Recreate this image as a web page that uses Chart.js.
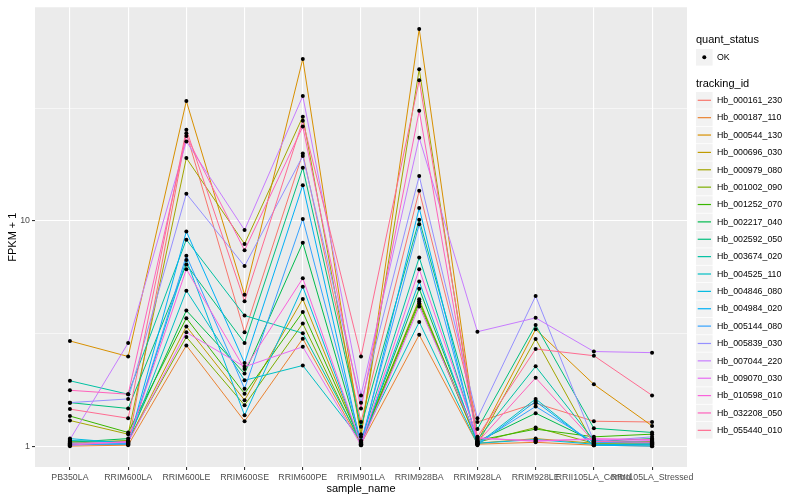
<!DOCTYPE html>
<html>
<head>
<meta charset="utf-8">
<script src="https://cdn.jsdelivr.net/npm/chart.js@4.4.1/dist/chart.umd.min.js"></script>
<style>
  body { margin: 0; background: #ffffff; }
  canvas { display: block; }
</style>
</head>
<body>
<canvas id="chart" width="800" height="500"></canvas>
<script>
// categories on the x axis
const sampleNames = ['PB350LA', 'RRIM600LA', 'RRIM600LE', 'RRIM600SE', 'RRIM600PE', 'RRIM901LA',
  'RRIM928BA', 'RRIM928LA', 'RRIM928LE', 'RRII105LA_Control', 'RRII105LA_Stressed'];

const trackingIds = ['Hb_000161_230', 'Hb_000187_110', 'Hb_000544_130', 'Hb_000696_030', 'Hb_000979_080',
  'Hb_001002_090', 'Hb_001252_070', 'Hb_002217_040', 'Hb_002592_050', 'Hb_003674_020',
  'Hb_004525_110', 'Hb_004846_080', 'Hb_004984_020', 'Hb_005144_080', 'Hb_005839_030',
  'Hb_007044_220', 'Hb_009070_030', 'Hb_010598_010', 'Hb_032208_050', 'Hb_055440_010'];

// FPKM + 1 per sample
const hb_000161_230 = [1.02, 1.02, 24.5, 3.2, 19.9, 1.28, 13.6, 1.28, 1.55, 1.29, 1.28];
const hb_000187_110 = [1.00, 1.01, 2.8, 1.29, 3.0, 1.02, 3.12, 1.02, 1.04, 1.01, 1.00];
const hb_000544_130 = [2.93, 2.5, 34, 4.7, 52.3, 1.1, 71, 1.05, 3.3, 1.88, 1.23];
const hb_000696_030 = [1.05, 1.05, 3.4, 1.6, 4.5, 1.03, 4.49, 1.03, 1.08, 1.03, 1.05];
const hb_000979_080 = [1.30, 1.13, 19, 7.9, 29, 1.13, 47.1, 1.02, 2.99, 1.02, 1.02];
const hb_001002_090 = [1.03, 1.06, 3.05, 1.52, 3.5, 1.02, 4.3, 1.04, 1.21, 1.03, 1.03];
const hb_001252_070 = [1.36, 1.15, 3.7, 1.71, 3.94, 1.04, 4.4, 1.06, 1.19, 1.1, 1.13];
const hb_002217_040 = [1.04, 1.08, 4.0, 2.1, 8.0, 1.03, 5.0, 1.05, 1.4, 1.05, 1.08];
const hb_002592_050 = [1.56, 1.47, 6.4, 2.87, 17.2, 1.22, 10.1, 1.19, 3.45, 1.2, 1.15];
const hb_003674_020 = [1.95, 1.70, 8.25, 3.8, 3.17, 1.05, 6.88, 1.07, 2.26, 1.06, 1.04];
const hb_004525_110 = [1.06, 1.04, 4.9, 1.96, 2.28, 1.06, 3.56, 1.02, 1.62, 1.01, 1.02];
const hb_004846_080 = [1.08, 1.03, 6.7, 1.37, 5.1, 1.02, 5.38, 1.03, 1.07, 1.02, 1.01];
const hb_004984_020 = [1.02, 1.02, 8.97, 2.34, 14.4, 1.01, 11.4, 1.01, 1.58, 1.01, 1.00];
const hb_005144_080 = [1.01, 1.03, 7.0, 1.8, 10.2, 1.04, 9.66, 1.03, 1.5, 1.04, 1.03];
const hb_005839_030 = [1.56, 1.62, 13.2, 6.3, 19.4, 1.56, 15.8, 1.33, 4.64, 1.05, 1.1];
const hb_007044_220 = [1.07, 2.87, 22.5, 9.1, 35.8, 1.68, 23.4, 3.22, 3.71, 2.63, 2.60];
const hb_009070_030 = [1.03, 1.04, 3.2, 2.25, 2.76, 1.01, 4.17, 1.08, 1.06, 1.07, 1.06];
const hb_010598_010 = [1.01, 1.05, 6.1, 2.2, 5.56, 1.02, 6.1, 1.09, 1.05, 1.08, 1.07];
const hb_032208_050 = [1.77, 1.70, 23.8, 7.4, 26.2, 1.47, 30.8, 1.04, 2.01, 1.05, 1.04];
const hb_055440_010 = [1.46, 1.33, 25.4, 4.4, 27.8, 2.5, 42.1, 1.1, 2.7, 2.52, 1.68];

const seriesValues = [hb_000161_230, hb_000187_110, hb_000544_130, hb_000696_030, hb_000979_080,
  hb_001002_090, hb_001252_070, hb_002217_040, hb_002592_050, hb_003674_020,
  hb_004525_110, hb_004846_080, hb_004984_020, hb_005144_080, hb_005839_030,
  hb_007044_220, hb_009070_030, hb_010598_010, hb_032208_050, hb_055440_010];

// y ticks: labelled majors and unlabelled minor gridlines
const yMajorTicks = [1, 10];
const yMinorTicks = [3.1623, 31.623];

// ggplot hue palette
const lineColours = ['#F8766D', '#EA8331', '#D89000', '#C09B00', '#A3A500', '#7CAE00', '#39B600',
  '#00BB4E', '#00BF7D', '#00C1A3', '#00BFC4', '#00BAE0', '#00B0F6', '#35A2FF', '#9590FF',
  '#C77CFF', '#E76BF3', '#FA62DB', '#FF62BC', '#FF6C91'];

const FONT = '"Liberation Sans", Arial, Helvetica, sans-serif';
Chart.defaults.font.family = FONT;

// grey panel behind the grid
const panelBg = {
  id: 'panelBg',
  beforeDraw(chart) {
    const a = chart.chartArea, c = chart.ctx;
    c.save();
    c.fillStyle = '#EBEBEB';
    c.fillRect(a.left, a.top, a.right - a.left, a.bottom - a.top);
    c.restore();
  }
};

// ggplot-like legend on the right
const ggLegend = {
  id: 'ggLegend',
  afterDraw(chart) {
    const c = chart.ctx;
    const x0 = 696, key = 17.37;
    c.save();
    c.textBaseline = 'middle';
    c.textAlign = 'left';
    c.fillStyle = '#000';
    c.font = '11px ' + FONT;
    c.fillText('quant_status', x0, 40);

    c.fillStyle = '#F2F2F2';
    c.fillRect(x0, 49, key - 0.8, key - 0.8);
    c.fillStyle = '#000';
    c.beginPath();
    c.arc(x0 + 8.3, 57.3, 2, 0, Math.PI * 2);
    c.fill();
    c.font = '8.8px ' + FONT;
    c.fillText('OK', x0 + 21, 57.5);

    c.font = '11px ' + FONT;
    c.fillText('tracking_id', x0, 84);

    const top = 92;
    trackingIds.forEach((id, i) => {
      const y = top + i * key;
      c.fillStyle = '#F2F2F2';
      c.fillRect(x0, y, key - 0.8, key - 0.8);
      c.strokeStyle = lineColours[i];
      c.lineWidth = 1.2;
      c.beginPath();
      c.moveTo(x0 + 1.7, y + 8.3);
      c.lineTo(x0 + 15, y + 8.3);
      c.stroke();
      c.fillStyle = '#000';
      c.font = '8.8px ' + FONT;
      c.fillText(id, x0 + 21, y + 8.6);
    });
    c.restore();
  }
};

const isMajor = v => yMajorTicks.includes(v);

const datasets = seriesValues.map((vals, i) => ({
  label: trackingIds[i],
  data: vals.map((v, j) => ({ x: j, y: v })),
  borderColor: lineColours[i],
  borderWidth: 1,
  pointRadius: 0,
  pointHoverRadius: 0,
  tension: 0,
  fill: false,
  order: 20 - i
}));

// points drawn on top of every line, as ggplot does
datasets.push({
  label: 'OK',
  data: seriesValues.flatMap(vals => vals.map((v, j) => ({ x: j, y: v }))),
  showLine: false,
  pointRadius: 2,
  pointBackgroundColor: '#000',
  pointBorderWidth: 0,
  order: 0
});

new Chart(document.getElementById('chart'), {
  type: 'line',
  data: { datasets },
  options: {
    responsive: false,
    animation: false,
    layout: { padding: { left: 0, right: 113, top: 5, bottom: 0 } },
    plugins: { legend: { display: false }, tooltip: { enabled: false } },
    scales: {
      x: {
        type: 'linear',
        min: -0.6,
        max: 10.6,
        afterBuildTicks: s => { s.ticks = sampleNames.map((_, i) => ({ value: i })); },
        afterFit: s => { s.height = 33; },
        ticks: {
          callback: v => sampleNames[v],
          autoSkip: false,
          maxRotation: 0,
          minRotation: 0,
          color: '#4D4D4D',
          font: { size: 8.8 },
          padding: 2
        },
        grid: { color: '#FFFFFF', lineWidth: 1.1, tickColor: '#333333', tickLength: 3 },
        border: { display: false },
        title: { display: true, text: 'sample_name', color: '#000', font: { size: 11 }, padding: { top: 0, bottom: 4 } }
      },
      y: {
        type: 'logarithmic',
        min: 0.808,
        max: 88.7,
        afterBuildTicks: s => { s.ticks = yMajorTicks.concat(yMinorTicks).sort((a, b) => a - b).map(v => ({ value: v })); },
        afterFit: s => { s.width = 35; },
        ticks: {
          callback: v => isMajor(v) ? String(v) : '',
          autoSkip: false,
          color: '#4D4D4D',
          font: { size: 8.8 },
          padding: 2
        },
        grid: {
          color: '#FFFFFF',
          lineWidth: ctx => (ctx.tick && isMajor(ctx.tick.value)) ? 1.1 : 0.55,
          tickColor: ctx => (ctx.tick && isMajor(ctx.tick.value)) ? '#333333' : 'rgba(0,0,0,0)',
          tickLength: 3
        },
        border: { display: false },
        title: { display: true, text: 'FPKM + 1', color: '#000', font: { size: 11 }, padding: { top: 6, bottom: 0 } }
      }
    }
  },
  plugins: [panelBg, ggLegend]
});
</script>
</body>
</html>
